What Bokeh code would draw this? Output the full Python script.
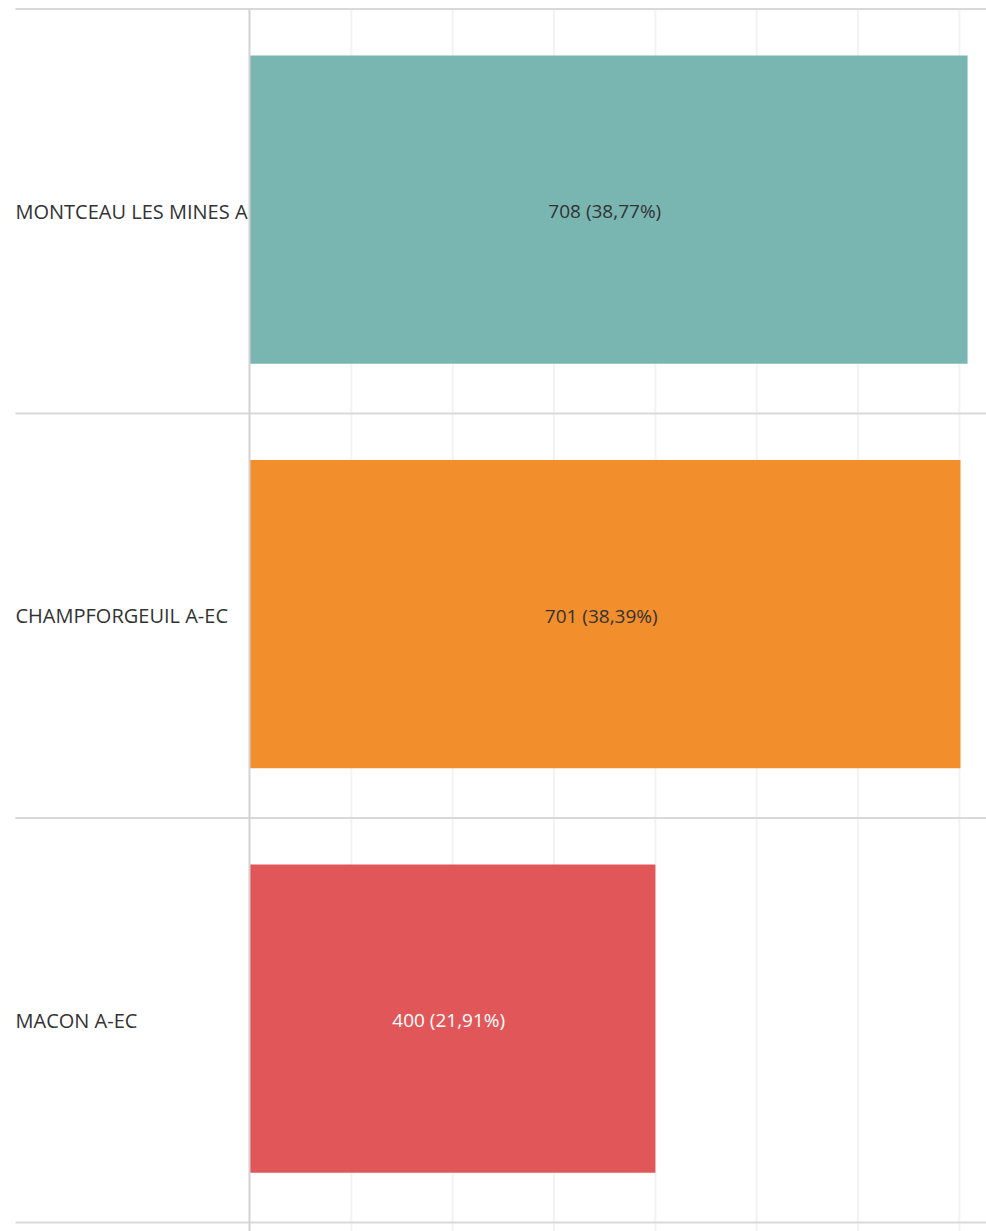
from bokeh.plotting import figure
from bokeh.models import Range1d, ColumnDataSource
from bokeh.core.properties import value
from bokeh.embed import file_html
from bokeh.resources import INLINE

categories = ["MONTCEAU LES MINES A", "CHAMPFORGEUIL A-EC", "MACON A-EC"]
counts = [708, 701, 400]
labels = ["708 (38,77%)", "701 (38,39%)", "400 (21,91%)"]
colors = ["#79b6b1", "#f28e2c", "#e15759"]
label_colors = ["#333333", "#333333", "#ffffff"]
grid_ticks = [100, 200, 300, 400, 500, 600, 700]

W, H = 986, 1231
scale = 1.0135
x0 = -249.5 / scale
x1 = (W - 249.5) / scale
row_px = 404.5
y_top = -8.5 / row_px
y_bot = (H - 8.5) / row_px

p = figure(width=W, height=H, output_backend="svg", toolbar_location=None,
           x_range=Range1d(x0, x1), y_range=Range1d(y_bot, y_top),
           min_border=0, min_border_left=0, min_border_right=0,
           min_border_top=0, min_border_bottom=0)
p.outline_line_color = None
p.xaxis.visible = False
p.yaxis.visible = False
p.xgrid.visible = False
p.ygrid.visible = False
p.background_fill_color = "white"
p.border_fill_color = "white"

# vertical gridlines (from top separator down)
p.segment(x0=grid_ticks, x1=grid_ticks, y0=[0] * len(grid_ticks), y1=[y_bot] * len(grid_ticks),
          line_color="#f3f3f3", line_width=2)

ypos = [i + 0.5 for i in range(len(categories))]
bar_y = [y - 0.004 for y in ypos]
src = ColumnDataSource(dict(cat=categories, y=ypos, by=bar_y, v=counts, mid=[c / 2 for c in counts],
                            lab=labels, color=colors, lc=label_colors))

p.hbar(y="by", left=0, right="v", height=0.762, fill_color="color", line_color=None, source=src)

# row separators
seps = list(range(len(categories) + 1))
p.segment(x0=[15 / scale + x0] * len(seps), x1=[x1] * len(seps), y0=seps, y1=seps,
          line_color="#d9d9d9", line_width=2)

# axis line at zero
p.segment(x0=[-0.5], x1=[-0.5], y0=[0], y1=[y_bot], line_color="#d2d2d2", line_width=2)

p.text(x=15 / scale + x0, y="y", text="cat", source=src, text_align="left", text_baseline="middle",
       text_font=value("Open Sans"), text_font_size="20px", text_color="#333333")
p.text(x="mid", y="y", text="lab", source=src, text_align="center", text_baseline="middle",
       x_offset=-4, y_offset=0, text_font=value("Open Sans"), text_font_size="19px", text_color="lc")

open("out.html", "w").write(file_html(p, INLINE))
